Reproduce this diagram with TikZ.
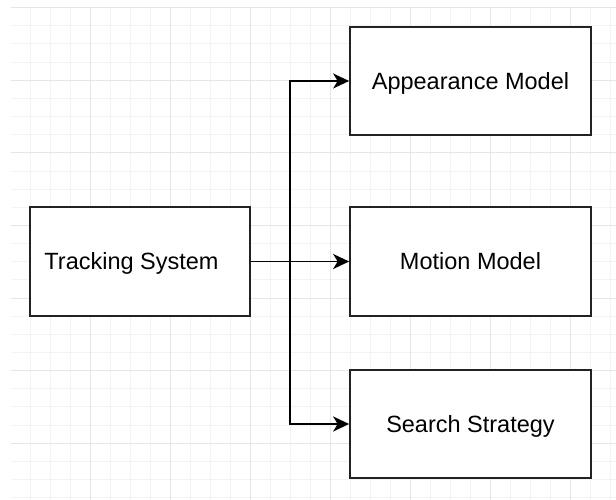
\documentclass[tikz,border=0pt]{standalone}
\usepackage{fontspec}
\setmainfont{Liberation Sans}
\usetikzlibrary{arrows.meta}
\definecolor{gridmajor}{HTML}{E6E6E6}
\definecolor{gridminor}{HTML}{F3F3F3}
\definecolor{boxline}{HTML}{222222}
\tikzset{
  minorline/.style={draw=gridminor, line width=1pt},
  majorline/.style={draw=gridmajor, line width=1pt},
  labeltext/.style={font=\fontsize{23.5}{28}\selectfont, text height=17pt, text depth=0pt},
  blockbox/.style={draw=boxline, line width=1.7pt, fill=white, inner sep=0pt, labeltext},
  conn/.style={draw=black, line width=1.8pt,
    -{Stealth[length=16pt,width=15pt,inset=4.5pt]}},
}
\begin{document}
\begin{tikzpicture}[x=1pt,y=1pt]
\useasboundingbox (0,0) rectangle (616,500);
% grid: minor lines
\foreach \i in {1,...,30} {
  \pgfmathsetmacro\xx{10+20*\i}
  \draw[minorline] (\xx,0) -- (\xx,492.3);
}
\foreach \j in {0,...,27} {
  \pgfmathsetmacro\yy{492.3-18.15*\j}
  \draw[minorline] (11,\yy) -- (616,\yy);
}
% grid: major lines
\foreach \i in {1,...,7} {
  \pgfmathsetmacro\xx{10+80*\i}
  \draw[majorline] (\xx,0) -- (\xx,492.3);
}
\foreach \j in {0,...,6} {
  \pgfmathsetmacro\yy{492.3-72.6*\j}
  \draw[majorline] (11,\yy) -- (616,\yy);
}
% boxes
\node[blockbox, minimum width=220pt, minimum height=109pt,
  label={[labeltext, xshift=-8.5pt]center:Tracking System}]
  (ts) at (140,238.5) {};
\node[blockbox, minimum width=241pt, minimum height=108pt] (am) at (470.5,419) {Appearance Model};
\node[blockbox, minimum width=241pt, minimum height=109pt] (mm) at (470.5,238.5) {Motion Model};
\node[blockbox, minimum width=241pt, minimum height=108pt] (ss) at (470.5,76) {Search Strategy};
% connectors
\coordinate (j) at (290,238.5);
\draw[conn] (ts.east) -- (j) |- (am.west);
\draw[conn] (ts.east) -- (mm.west);
\draw[conn] (ts.east) -- (j) |- (ss.west);
\end{tikzpicture}
\end{document}
